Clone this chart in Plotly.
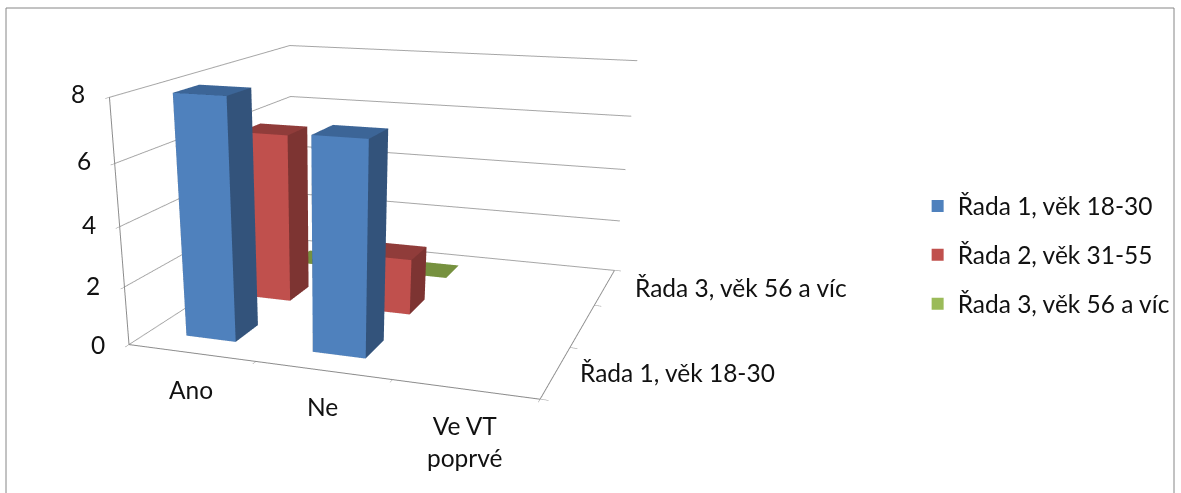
import plotly.graph_objects as go

categories = ["Ano", "Ne", "Ve VT<br>poprvé"]
series_names = ["Řada 1, věk 18-30", "Řada 2, věk 31-55", "Řada 3, věk 56 a víc"]
series_front = [8.0, 7.0, None]
series_mid = [6.0, 2.0, None]
series_back = [0.0, 0.0, None]
front_colors = ["#4F81BD", "#C0504D", "#9BBB59"]
side_colors = ["#33537B", "#7D3432", "#647A3A"]
top_colors = ["#3C6597", "#903C3A", "#76913F"]
z_ticks = [0, 2, 4, 6, 8]
depth_labels = ["Řada 1, věk 18-30", "", "Řada 3, věk 56 a víc"]
FONT = "Lato, Carlito, Open Sans"
TXT = "#111111"
FSIZE = 24.5
FIG_H = 1000  # a taller canvas weakens Plotly's fixed-FOV perspective; the window shows the top 493 px

def box(xi, yi, h, s):
    x0, x1 = xi + 0.301, xi + 0.699
    y0, y1 = yi + 0.307, yi + 0.693
    xs = [x0, x1, x1, x0, x0, x1, x1, x0]
    ys = [y0, y0, y1, y1, y0, y0, y1, y1]
    zs = [0, 0, 0, 0, h, h, h, h]
    i = [0, 0, 4, 4, 0, 0, 1, 1, 2, 2, 3, 3]
    j = [1, 2, 5, 6, 1, 5, 2, 6, 3, 7, 0, 4]
    k = [2, 3, 6, 7, 5, 4, 6, 5, 7, 6, 4, 7]
    fc = [side_colors[s]] * 2 + [top_colors[s]] * 2 + [front_colors[s]] * 2 + [side_colors[s]] * 6
    return go.Mesh3d(x=xs, y=ys, z=zs, i=i, j=j, k=k, facecolor=fc, flatshading=True,
                     lighting=dict(ambient=1.0, diffuse=0.0, specular=0.0, fresnel=0.0),
                     showlegend=False, name=series_names[s], hoverinfo="name")

fig = go.Figure()
for s, vals in enumerate([series_front, series_mid, series_back]):
    for xi, v in enumerate(vals):
        if v is not None:
            fig.add_trace(box(xi, s, v, s))
for s, n in enumerate(series_names):
    fig.add_trace(go.Scatter(x=[None], y=[None], mode="markers", name=n, legendgroup=n,
                             marker=dict(symbol="square", size=14, color=front_colors[s])))

axis = dict(showbackground=False, showgrid=False, linecolor="#8c8c8c", linewidth=2,
            showline=True, zeroline=False, ticks="outside", tickcolor="#8c8c8c", ticklen=6,
            title="", showticklabels=False, showspikes=False)
afont = dict(family=FONT, size=FSIZE, color=TXT)
annotations = []
for i, c in enumerate(categories):
    annotations.append(dict(x=i + 0.5, y=0, z=0, text=c, showarrow=False, yanchor="top", yshift=-20, font=afont))
for j, t in enumerate(depth_labels):
    if t:
        annotations.append(dict(x=3, y=j + 0.5, z=0, text=t, showarrow=False, xanchor="left",
                                xshift=22 + 3 * j, font=afont))
for t in z_ticks:
    annotations.append(dict(x=0, y=0, z=t, text=str(t), showarrow=False, xanchor="right",
                            xshift=-22, yshift=0.5 * t, font=afont))

fig.update_layout(
    width=1181, height=FIG_H, margin=dict(l=0, r=0, t=0, b=0),
    paper_bgcolor="white", plot_bgcolor="white",
    font=dict(family=FONT, size=FSIZE, color=TXT),
    xaxis=dict(visible=False), yaxis=dict(visible=False),
    scene=dict(
        domain=dict(x=[0.0, 660 / 1181], y=[0.0, 1.0]),
        dragmode="orbit",
        xaxis=dict(axis, tickvals=[0, 1, 2, 3], range=[0, 3]),
        yaxis=dict(axis, tickvals=[0, 1, 2, 3], range=[0, 3]),
        zaxis=dict(axis, tickvals=z_ticks, range=[0, 8], showgrid=True, gridcolor="#a6a6a6", gridwidth=2),
        aspectmode="manual", aspectratio=dict(x=1.172, y=1.231, z=0.67),
        camera=dict(eye=dict(x=1.0795, y=-3.4545, z=0.8135), center=dict(x=-0.0605, y=-0.399, z=-0.837),
                    up=dict(x=0, y=0, z=1)),
        annotations=annotations,
    ),
    legend=dict(x=0.777, y=1 - 255 / FIG_H, yanchor="middle", font=dict(family=FONT, size=FSIZE, color=TXT),
                itemsizing="constant", tracegroupgap=14, traceorder="grouped", bgcolor="rgba(0,0,0,0)"),
    shapes=[dict(type="rect", xref="paper", yref="paper", x0=6 / 1181, x1=1174 / 1181, y0=0, y1=1 - 8 / FIG_H,
                 line=dict(color="#868686", width=1))],
)
fig.write_html("out.html", config=dict(displayModeBar=False),
               post_script="for (const el of [document.documentElement, document.body]) "
                           "{ el.style.margin='0'; el.style.height='493px'; el.style.overflow='hidden'; }")
